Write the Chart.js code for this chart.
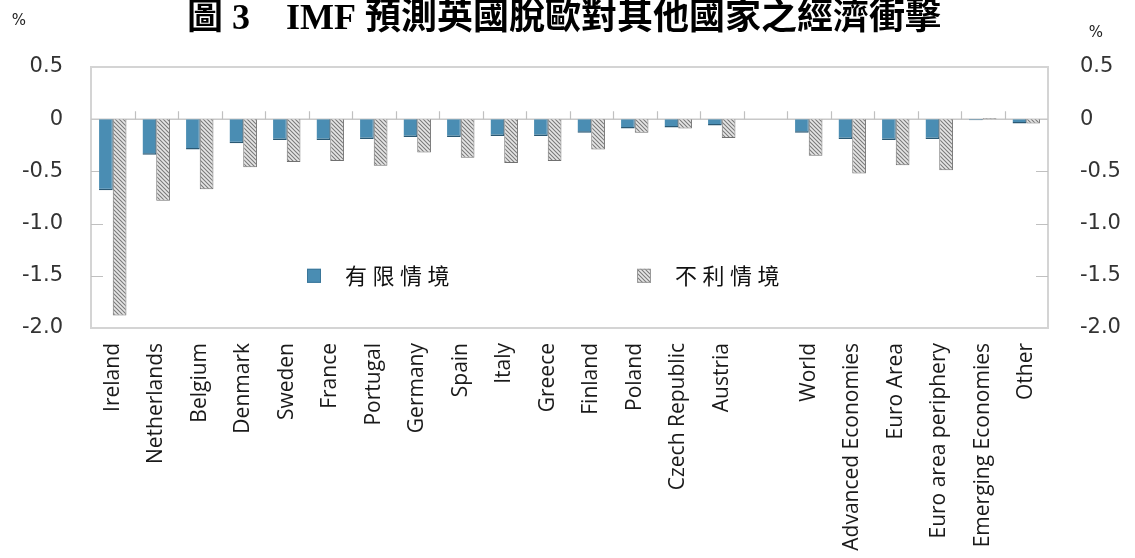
<!DOCTYPE html>
<html>
<head>
<meta charset="utf-8">
<script src="https://cdn.jsdelivr.net/npm/chart.js@4"></script>
<style>
  html, body { margin: 0; padding: 0; background: #ffffff; }
  #wrap { position: relative; width: 1135px; height: 558px; }
  canvas { display: block; }
</style>
</head>
<body>
<div id="wrap"><canvas id="c" width="1135" height="558"></canvas></div>
<script>
// ---- Data ----
const titleText = "圖 3　IMF 預測英國脫歐對其他國家之經濟衝擊";
const unitLabel = "%";
const categories = ["Ireland", "Netherlands", "Belgium", "Denmark", "Sweden", "France", "Portugal", "Germany", "Spain", "Italy", "Greece", "Finland", "Poland", "Czech Republic", "Austria", "", "World", "Advanced Economies", "Euro Area", "Euro area periphery", "Emerging Economies", "Other"];
const seriesNames = ["有限情境", "不利情境"];
const limitedScenario = [-0.68, -0.34, -0.29, -0.23, -0.20, -0.20, -0.19, -0.17, -0.17, -0.16, -0.16, -0.13, -0.09, -0.08, -0.06, null, -0.13, -0.19, -0.20, -0.19, -0.01, -0.04];
const adverseScenario = [-1.88, -0.78, -0.67, -0.46, -0.41, -0.40, -0.445, -0.32, -0.37, -0.42, -0.40, -0.29, -0.13, -0.09, -0.18, null, -0.35, -0.52, -0.44, -0.49, 0.01, -0.04];
const yTickValues = [0.5, 0, -0.5, -1.0, -1.5, -2.0];
const yTickLabels = ["0.5", "0", "-0.5", "-1.0", "-1.5", "-2.0"];

// ---- Styles ----
const BLUE = "#4a8db3";
const BLUE_EDGE = "#2a5873";
function makeHatch() {
  const p = document.createElement("canvas");
  p.width = 4; p.height = 4;
  const g = p.getContext("2d");
  g.fillStyle = "#e6e6e6";
  g.fillRect(0, 0, 4, 4);
  g.strokeStyle = "#7a7a7a";
  g.lineWidth = 1.1;
  g.beginPath();
  g.moveTo(-1, -1); g.lineTo(5, 5);
  g.moveTo(-3, 1); g.lineTo(3, 7);
  g.moveTo(1, -3); g.lineTo(7, 3);
  g.stroke();
  return document.getElementById("c").getContext("2d").createPattern(p, "repeat");
}
const HATCH = makeHatch();

const decorPlugin = {
  id: "decor",
  beforeDatasetsDraw(chart) {
    const { ctx, chartArea: a, scales } = chart;
    ctx.save();
    // frame
    ctx.strokeStyle = "#d4d4d4";
    ctx.lineWidth = 2;
    ctx.strokeRect(a.left, a.top, a.right - a.left, a.bottom - a.top);
    // zero line
    const y0 = scales.y.getPixelForValue(0);
    ctx.strokeStyle = "#c8c8c8";
    ctx.lineWidth = 1.5;
    ctx.beginPath(); ctx.moveTo(a.left, y0); ctx.lineTo(a.right, y0); ctx.stroke();
    // category ticks on zero line (upwards)
    ctx.lineWidth = 1.2;
    ctx.strokeStyle = "#c0c0c0";
    ctx.beginPath();
    for (let i = 1; i < categories.length; i++) {
      const x = Math.round(scales.x.getPixelForValue(i - 0.5)) + 0.5;
      ctx.moveTo(x, y0); ctx.lineTo(x, y0 - 8);
    }
    ctx.stroke();
    // inner y ticks on both sides
    ctx.beginPath();
    yTickValues.forEach(v => {
      if (v === 0.5 || v === -2.0 || v === 0) return;
      const y = Math.round(scales.y.getPixelForValue(v)) + 0.5;
      ctx.moveTo(a.left, y); ctx.lineTo(a.left + 12, y);
      ctx.moveTo(a.right, y); ctx.lineTo(a.right - 12, y);
    });
    ctx.stroke();
    ctx.restore();
  },
  afterDraw(chart) {
    const { ctx, chartArea: a, scales } = chart;
    ctx.save();
    // title
    ctx.fillStyle = "#000";
    ctx.font = "bold 36px 'Liberation Serif', 'Noto Sans CJK TC', serif";
    ctx.textAlign = "center";
    ctx.textBaseline = "middle";
    ctx.fillText(titleText, 564, 20);
    // % labels
    ctx.font = "15px 'DejaVu Sans', sans-serif";
    ctx.fillStyle = "#222";
    ctx.fillText(unitLabel, 19, 21);
    ctx.fillText(unitLabel, 1096, 33);
    // legend
    const ly = scales.y.getPixelForValue(-1.5);
    const items = [{ x: 307, ds: chart.data.datasets[0] }, { x: 637, ds: chart.data.datasets[1] }];
    items.forEach(it => {
      ctx.fillStyle = it.ds.backgroundColor;
      ctx.fillRect(it.x, ly - 7, 14, 14);
      ctx.strokeStyle = it.ds === chart.data.datasets[0] ? "#3a7699" : "#999";
      ctx.lineWidth = 1;
      ctx.strokeRect(it.x + 0.5, ly - 6.5, 13, 13);
      ctx.fillStyle = "#111";
      ctx.font = "22px 'Noto Sans CJK TC', sans-serif";
      ctx.textAlign = "left";
      const chars = Array.from(it.ds.label);
      chars.forEach((ch, k) => ctx.fillText(ch, it.x + 38 + k * 27.5, ly));
    });
    ctx.restore();
  }
};

new Chart(document.getElementById("c"), {
  type: "bar",
  data: {
    labels: categories,
    datasets: [
      { label: seriesNames[0], data: limitedScenario, backgroundColor: BLUE, borderColor: BLUE_EDGE, borderWidth: { top: 0, left: 0, right: 1, bottom: 1.5 }, yAxisID: "y" },
      { label: seriesNames[1], data: adverseScenario, backgroundColor: HATCH, borderColor: "#707070", borderWidth: 1, yAxisID: "y" }
    ]
  },
  options: {
    responsive: false,
    animation: false,
    devicePixelRatio: 1,
    layout: { padding: { top: 67, left: 0, right: 0, bottom: 0 } },
    datasets: { bar: { barPercentage: 1.0, categoryPercentage: 0.63 } },
    plugins: { legend: { display: false }, tooltip: { enabled: false }, title: { display: false } },
    scales: {
      x: {
        position: "bottom",
        grid: { display: false, drawTicks: false },
        border: { display: false },
        ticks: {
          autoSkip: false, maxRotation: 90, minRotation: 90, padding: 15,
          color: "#1a1a1a", font: { family: "'Open Sans', sans-serif", size: 21 }
        },
        afterFit(s) { s.height = 230; }
      },
      y: {
        position: "left",
        min: -2.0, max: 0.5,
        grid: { display: false, drawTicks: false },
        border: { display: false },
        afterBuildTicks(s) { s.ticks = yTickValues.map(v => ({ value: v })); },
        ticks: {
          padding: 28, color: "#333",
          font: { family: "'DejaVu Sans', sans-serif", size: 21 },
          callback: (v) => yTickLabels[yTickValues.indexOf(v)]
        },
        afterFit(s) { s.width = 91; }
      },
      y2: {
        position: "right",
        min: -2.0, max: 0.5,
        grid: { display: false, drawTicks: false },
        border: { display: false },
        afterBuildTicks(s) { s.ticks = yTickValues.map(v => ({ value: v })); },
        ticks: {
          padding: 32, color: "#333",
          font: { family: "'DejaVu Sans', sans-serif", size: 21 },
          callback: (v) => yTickLabels[yTickValues.indexOf(v)]
        },
        afterFit(s) { s.width = 87; }
      }
    }
  },
  plugins: [decorPlugin]
});
</script>
</body>
</html>
